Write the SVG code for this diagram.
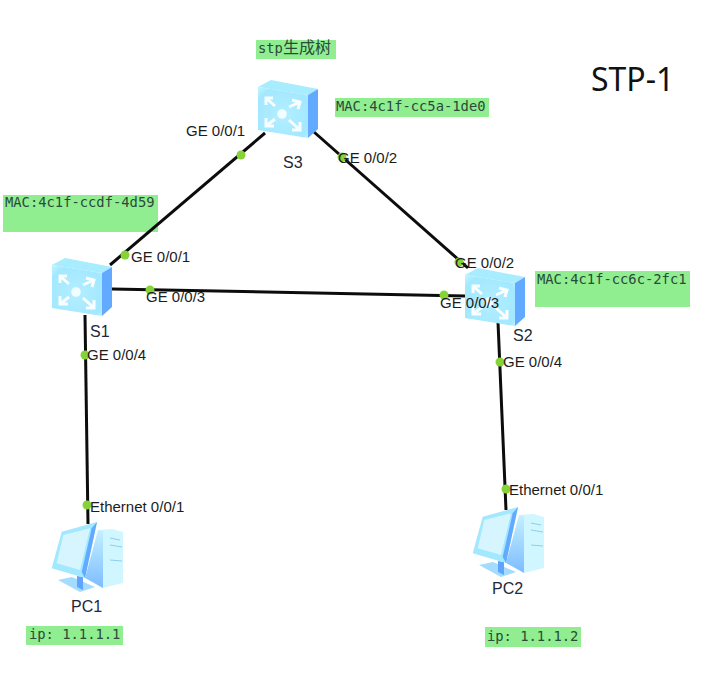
<svg xmlns="http://www.w3.org/2000/svg" width="708" height="686" viewBox="0 0 708 686">
<style>
.link{stroke:#0c0c0c;stroke-width:3;fill:none}
.dot{fill:#86d338}
.lbl{font-family:"Liberation Sans",Arial,sans-serif;font-size:15px;fill:#1c1c1c}
.name{font-family:"Liberation Sans",Arial,sans-serif;font-size:16px;fill:#222838}
.note{fill:#90ee90}
.mono{font-family:"DejaVu Sans Mono","Noto Sans CJK SC",monospace;font-size:13.8px;fill:#2a4a3a}
.cjk{font-family:"Noto Sans CJK SC",sans-serif;font-size:16px}
.title{font-family:"Noto Sans","Open Sans",sans-serif;font-size:32px;fill:#111}
.ch{fill:none;stroke:#fff;stroke-width:3;opacity:.92}
</style>
<defs>
<radialGradient id="front" cx=".5" cy=".55" r=".7"><stop offset="0" stop-color="#b4eeff"/><stop offset=".8" stop-color="#a2e8ff"/><stop offset="1" stop-color="#bdf2ff"/></radialGradient>
<linearGradient id="panel" x1="0" y1="0" x2="0" y2="1"><stop offset="0" stop-color="#c4f0ff"/><stop offset="1" stop-color="#7dbcff"/></linearGradient>
<g id="switch">
<polygon points="0,7 13,0 60,9 50,15" fill="#a8ecff"/>
<polygon points="50,15 60,9 60,49 50,58" fill="#62aaff"/>
<polygon points="0,7 50,15 50,58 0,50" fill="url(#front)"/>
<circle cx="24" cy="34" r="4.8" fill="#f2fdff"/>
<path class="ch" d="M8,18 L17,26 M8,25 V18 H15"/>
<path class="ch" d="M42,22 L31,27 M34,20 L42,22 L40,29"/>
<path class="ch" d="M17,39 L8,46 M8,38 V46 H16"/>
<path class="ch" d="M31,40 L42,50 M42,42 V50 H34"/>
</g>
<g id="pc">
<polygon points="46,8 60,7 71,10 71,61 51,66" fill="#d0f6ff"/>
<polygon points="46,8 51,9 51,66 33,56" fill="url(#panel)"/>
<polygon points="6,58 20,55 43,65 28,70" fill="#a4dcff"/>
<polygon points="25,54 31,55 31,68 25,65" fill="#5fa4ff"/>
<polygon points="45,0 9.7,9.7 -0.3,46.3 33,56" fill="#a2e8ff"/>
<polygon points="11.3,13 38,6.3 28,48 4.7,41.3" fill="#d6f5ff"/>
<polygon points="45,0 33,56 29.7,50 39.7,6.3" fill="#62aaff"/>
<path d="M58,16 L68,18 M58,23 L70,25 M58,38 L70,39" stroke="#8fd0ee" stroke-width="1.2"/>
</g>
</defs>
<rect width="708" height="686" fill="#fff"/>
<g id="notes">
<rect class="note" x="256" y="40" width="80" height="19"/>
<text class="mono" x="258" y="53">stp<tspan class="cjk">生成树</tspan></text>
<rect class="note" x="335" y="98" width="154" height="19"/>
<text class="mono" x="336" y="111">MAC:4c1f-cc5a-1de0</text>
<rect class="note" x="3" y="195" width="155" height="37"/>
<text class="mono" x="5" y="207">MAC:4c1f-ccdf-4d59</text>
<rect class="note" x="535" y="271" width="155" height="36"/>
<text class="mono" x="537" y="284">MAC:4c1f-cc6c-2fc1</text>
<rect class="note" x="26" y="626" width="97" height="19"/>
<text class="mono" x="29" y="639">ip: 1.1.1.1</text>
<rect class="note" x="485" y="627" width="96" height="20"/>
<text class="mono" x="487" y="641">ip: 1.1.1.2</text>
</g>
<g id="connectors">
<line class="link" x1="265" y1="133" x2="110" y2="265"/>
<line class="link" x1="314" y1="132" x2="468" y2="268"/>
<line class="link" x1="112" y1="289" x2="465" y2="296"/>
<line class="link" x1="85" y1="315" x2="88" y2="524"/>
<line class="link" x1="498" y1="322" x2="506" y2="510"/>
<circle class="dot" cx="241" cy="155" r="4.5"/>
<circle class="dot" cx="125" cy="255" r="4.5"/>
<circle class="dot" cx="342" cy="157" r="4.5"/>
<circle class="dot" cx="459" cy="262" r="4.5"/>
<circle class="dot" cx="150" cy="290" r="4.5"/>
<circle class="dot" cx="444" cy="295" r="4.5"/>
<circle class="dot" cx="85" cy="355" r="4.5"/>
<circle class="dot" cx="87" cy="505" r="4.5"/>
<circle class="dot" cx="500" cy="362" r="4.5"/>
<circle class="dot" cx="506" cy="489" r="4.5"/>
</g>
<g id="S3"><use href="#switch" x="258" y="80"/><text class="name" x="283" y="168">S3</text></g>
<g id="S1"><use href="#switch" x="52" y="258"/><text class="name" x="90" y="337">S1</text></g>
<g id="S2"><use href="#switch" x="465" y="268"/><text class="name" x="513" y="341">S2</text></g>
<g id="PC1"><use href="#pc" x="52" y="522"/><text class="name" x="71" y="612">PC1</text></g>
<g id="PC2"><use href="#pc" x="473" y="507"/><text class="name" x="492" y="594">PC2</text></g>
<g id="labels">
<text class="lbl" x="186" y="136">GE 0/0/1</text>
<text class="lbl" x="338" y="163">GE 0/0/2</text>
<text class="lbl" x="131" y="262">GE 0/0/1</text>
<text class="lbl" x="146" y="302">GE 0/0/3</text>
<text class="lbl" x="87" y="360">GE 0/0/4</text>
<text class="lbl" x="455" y="268">GE 0/0/2</text>
<text class="lbl" x="440" y="308">GE 0/0/3</text>
<text class="lbl" x="503" y="367">GE 0/0/4</text>
<text class="lbl" x="90" y="512">Ethernet 0/0/1</text>
<text class="lbl" x="509" y="495">Ethernet 0/0/1</text>
</g>
<text class="title" x="591" y="91">STP-1</text>
</svg>
